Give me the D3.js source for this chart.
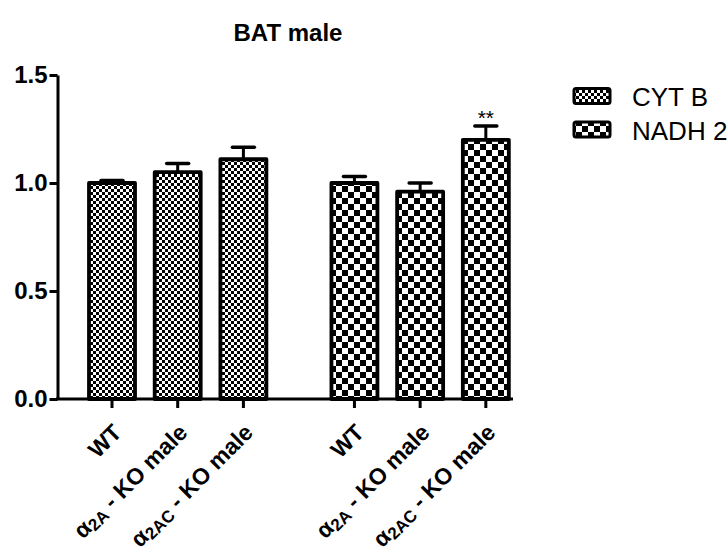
<!DOCTYPE html>
<html>
<head>
<meta charset="utf-8">
<script src="https://cdn.jsdelivr.net/npm/d3@7"></script>
<style>
  body { margin: 0; background: #fff; }
  svg { font-family: "Liberation Sans", Arial, sans-serif; }
</style>
</head>
<body>
<svg id="chart" width="728" height="551"></svg>
<script>
// Relative mtDNA expression in brown adipose tissue, male mice
const series = ["CYT B", "NADH 2"];
const groups = ["WT", "α2A - KO male", "α2AC - KO male"];
const cytbMean = [1.00, 1.05, 1.11];
const cytbSem  = [0.012, 0.04, 0.055];
const nadhMean = [1.00, 0.96, 1.20];
const nadhSem  = [0.03, 0.04, 0.064];
const nadhSig  = ["", "", "**"];
const yTicks = [0.0, 0.5, 1.0, 1.5];

const svg = d3.select("#chart");
const defs = svg.append("defs");

// fill patterns: fine and coarse checkerboards
function checker(id, s) {
  const p = defs.append("pattern").attr("id", id)
    .attr("patternUnits", "userSpaceOnUse")
    .attr("width", 2 * s).attr("height", 2 * s);
  p.append("rect").attr("width", 2 * s).attr("height", 2 * s).attr("fill", "#fff");
  p.append("rect").attr("width", s).attr("height", s).attr("fill", "#000");
  p.append("rect").attr("x", s).attr("y", s).attr("width", s).attr("height", s).attr("fill", "#000");
}
checker("patA", 3);
checker("patB", 6);
const fills = ["url(#patA)", "url(#patB)"];

const y = d3.scaleLinear().domain([0, 1.5]).range([399, 75]);

// bar slots: two groups of three with a gap between them
const slotGap = 0.69;
const x = d3.scaleLinear().domain([0, 1]).range([112, 177.7]);
const bars = [];
series.forEach((s, si) => {
  const means = si === 0 ? cytbMean : nadhMean;
  const sems = si === 0 ? cytbSem : nadhSem;
  groups.forEach((g, gi) => {
    bars.push({
      series: si, label: g, mean: means[gi], sem: sems[gi],
      sig: si === 1 ? nadhSig[gi] : "",
      cx: x(si * (3 + slotGap) + gi)
    });
  });
});
const barW = 46;

// Title
svg.append("text").attr("x", 288).attr("y", 41)
  .attr("text-anchor", "middle").attr("font-size", 24).attr("font-weight", "bold")
  .text("BAT male");

// Bars
const gBars = svg.append("g");
bars.forEach(b => {
  // error bar (upper only)
  gBars.append("line")
    .attr("x1", b.cx).attr("x2", b.cx)
    .attr("y1", y(b.mean)).attr("y2", y(b.mean + b.sem))
    .attr("stroke", "#000").attr("stroke-width", 3);
  gBars.append("line")
    .attr("x1", b.cx - 11).attr("x2", b.cx + 11)
    .attr("y1", y(b.mean + b.sem)).attr("y2", y(b.mean + b.sem))
    .attr("stroke", "#000").attr("stroke-width", 3.5).attr("stroke-linecap", "round");
  gBars.append("rect")
    .attr("x", b.cx - barW / 2).attr("y", y(b.mean))
    .attr("width", barW).attr("height", y(0) - y(b.mean))
    .attr("fill", fills[b.series]).attr("stroke", "#000")
    .attr("stroke-width", 3.8).attr("stroke-linejoin", "round");
  if (b.sig) {
    gBars.append("text").attr("x", b.cx).attr("y", y(b.mean + b.sem) - 1)
      .attr("text-anchor", "middle").attr("font-size", 21).text(b.sig);
  }
});

// Y axis
const yAxis = d3.axisLeft(y).tickValues(yTicks).tickFormat(d3.format(".1f"))
  .tickSize(8).tickSizeOuter(0).tickPadding(2);
const gy = svg.append("g").attr("transform", "translate(57.5,0)").call(yAxis);
gy.select(".domain").attr("stroke-width", 3);
gy.selectAll(".tick line").attr("stroke-width", 3);
gy.selectAll(".tick text").attr("font-size", 24).attr("font-weight", "bold")
  .attr("font-family", "'Liberation Sans', Arial, sans-serif").attr("fill", "#000");

// X axis line and ticks
svg.append("line").attr("x1", 56).attr("x2", 513)
  .attr("y1", 399).attr("y2", 399).attr("stroke", "#000").attr("stroke-width", 3);
bars.forEach(b => {
  svg.append("line").attr("x1", b.cx).attr("x2", b.cx)
    .attr("y1", 399).attr("y2", 408).attr("stroke", "#000").attr("stroke-width", 3);
});

// Rotated category labels
bars.forEach(b => {
  const t = svg.append("text")
    .attr("transform", `translate(${b.cx + 11},${434}) rotate(-45)`)
    .attr("text-anchor", "end").attr("font-size", 23).attr("font-weight", "bold");
  const m = b.label.match(/^α(2AC|2A)(.*)$/);
  if (m) {
    t.append("tspan").text("α");
    t.append("tspan").attr("font-size", 17).attr("dy", 3).text(m[1]);
    t.append("tspan").attr("dy", -3).text(m[2]);
  } else {
    t.text(b.label);
  }
});

// Legend
series.forEach((s, i) => {
  const ly = 96 + i * 33.5;
  svg.append("rect").attr("x", 574).attr("y", ly - 7.5).attr("width", 36).attr("height", 15)
    .attr("rx", 2).attr("fill", fills[i]).attr("stroke", "#000").attr("stroke-width", 3);
  svg.append("text").attr("x", 632).attr("y", ly + 10)
    .attr("font-size", 26).text(s);
});
</script>
</body>
</html>
